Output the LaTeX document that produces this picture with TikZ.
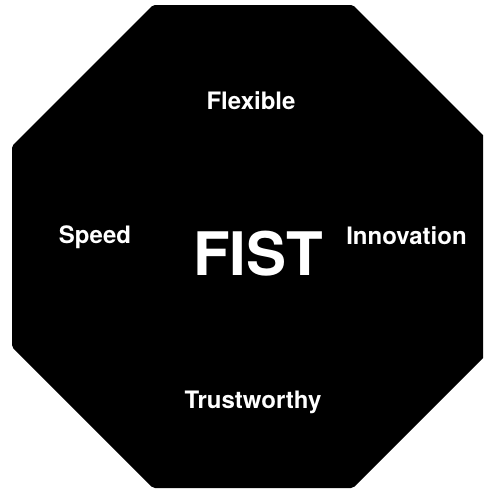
\documentclass[tikz,border=0pt]{standalone}
\usepackage{fontspec}
\setmainfont{TeX Gyre Heros}
\begin{document}
\begin{tikzpicture}[x=1pt,y=-1pt,
  lbl/.style={text=white,font=\bfseries\fontsize{24}{28}\selectfont,inner sep=0pt,anchor=base},
  big/.style={text=white,font=\bfseries\fontsize{60}{70}\selectfont,inner sep=0pt,anchor=base}]
\useasboundingbox (0,0) rectangle (483,491);
\clip (0,0) rectangle (483,491);
\fill[black, rounded corners=2pt] (153,5) -- (353,5) -- (494,146) -- (494,347) -- (353,488) -- (153,488) -- (12,347) -- (12,146) -- cycle;
\node[big] (fist) at (258,275) {FIST};
\node[lbl] (flexible) at (251,109) {Flexible};
\node[lbl] (speed) at (95,243) {Speed};
\node[lbl] (innovation) at (406.5,244) {Innovation};
\node[lbl] (trust) at (253,408) {Trustworthy};
\end{tikzpicture}
\end{document}
